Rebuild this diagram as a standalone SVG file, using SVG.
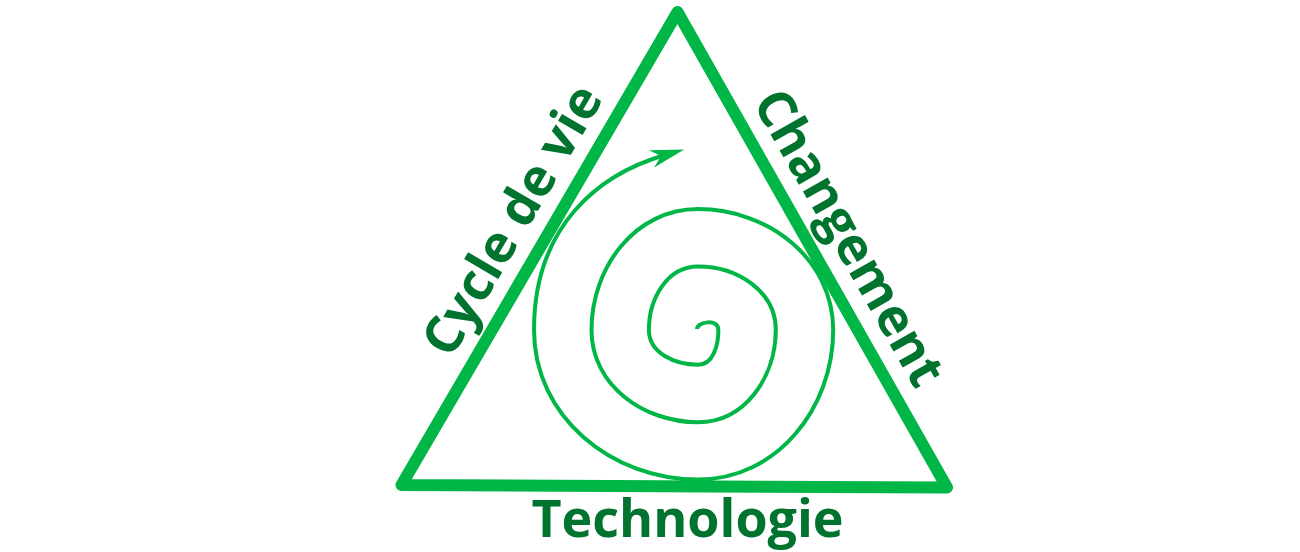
<svg xmlns="http://www.w3.org/2000/svg" width="1300" height="552" viewBox="0 0 1300 552">
  <style>
    .edge { fill: none; stroke: #00B646; stroke-width: 12; stroke-linejoin: round; stroke-linecap: round; }
    .spiral { fill: none; stroke: #00B646; stroke-width: 4; }
    .label { font-family: "Open Sans", "Noto Sans", "Liberation Sans", sans-serif; font-weight: 700; font-size: 52px; fill: #00732E; text-anchor: middle; }
  </style>
  <defs>
    <marker id="arrow" markerUnits="userSpaceOnUse" markerWidth="40" markerHeight="24" refX="0" refY="0" orient="auto" overflow="visible">
      <path d="M 20 0 L -14 -9 L -4 0 L -14 9 Z" fill="#00B646"/>
    </marker>
  </defs>
  <rect width="1300" height="552" fill="#ffffff"/>
  <g id="triangle">
    <polygon class="edge" points="677.5,12 947,487.5 401.5,485"/>
  </g>
  <g id="connectors">
    <path class="spiral" marker-end="url(#arrow)" d="M 697 329 C 697 322, 718.4 318, 718.4 330 C 718.4 345.2, 713.2 364.7, 698 364.7 C 674.9 364.7, 648.9 353.1, 648.9 330 C 648.9 298.9, 666.9 266.6, 698 266.6 C 737 266.6, 775.8 291, 775.8 330 C 775.8 376.95, 744.95 422.2, 698 422.2 C 643.13 422.2, 591.5 384.87, 591.5 330 C 591.5 267.2, 635.2 209.1, 698 209.1 C 768.72 209.1, 833.2 259.28, 833.2 330 C 833.2 408.65, 776.65 479.6, 698 479.6 C 611.4 479.6, 534 416.6, 534 330 C 534 225, 599.7 174, 665 155"/>
  </g>
  <g id="label-cycle">
    <text class="label" transform="translate(527.5,229) rotate(-59.7)">Cycle de vie</text>
  </g>
  <g id="label-changement">
    <text class="label" transform="translate(834,246.4) rotate(60.4)">Changement</text>
  </g>
  <g id="label-technologie">
    <text class="label" x="687.5" y="537">Technologie</text>
  </g>
</svg>
